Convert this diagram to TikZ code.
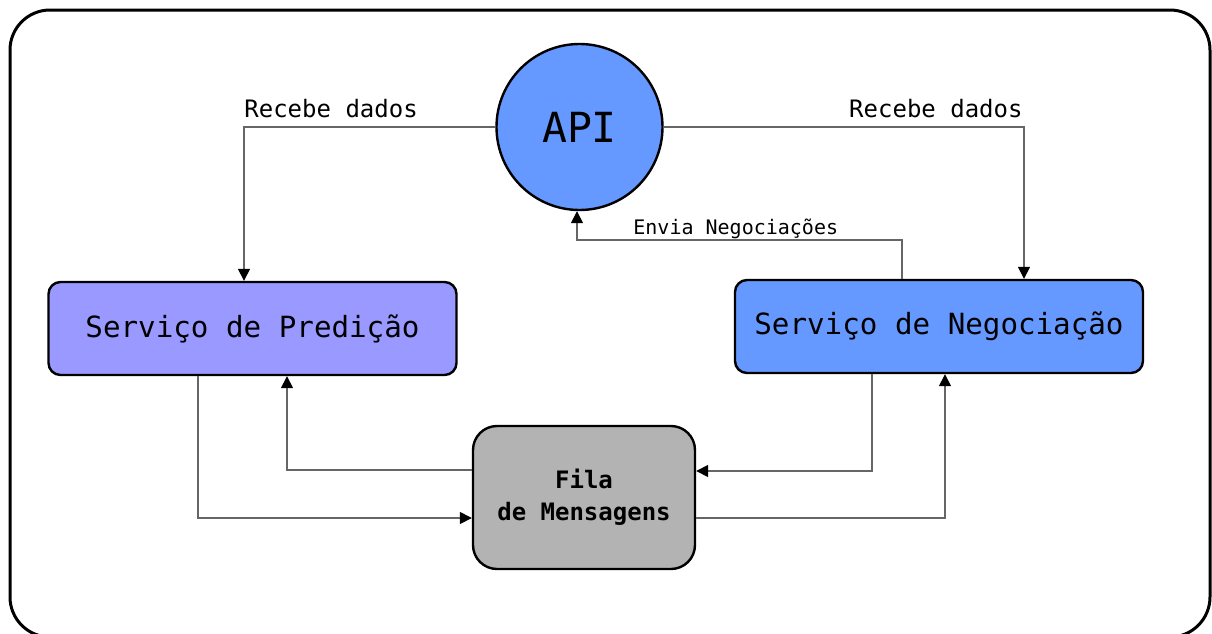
\documentclass[tikz,border=0pt]{standalone}
\usepackage{fontspec}
\setmonofont{DejaVu Sans Mono}
\usetikzlibrary{shapes,arrows.meta,positioning,calc}
\definecolor{predcol}{HTML}{9999FF}
\definecolor{negcol}{HTML}{6699FF}
\definecolor{filacol}{HTML}{B3B3B3}

\begin{document}
\begin{tikzpicture}[x=0.5pt,y=-0.5pt,
  servico/.style={draw,line width=1.2pt,rounded corners=6pt,minimum width=204pt,minimum height=46.5pt,font=\ttfamily\fontsize{14.6}{17}\selectfont},
  conn/.style={draw=black!60,line width=0.75pt},
  seta/.style={conn,-{Triangle[black,length=6pt,width=6pt]}},
  rotulo/.style={font=\ttfamily\fontsize{12}{14}\selectfont,inner sep=0pt}]
  \useasboundingbox (0,0) rectangle (1212,633);
  \draw[line width=1.5pt,rounded corners=20pt] (10,10) rectangle (1210,637);

  \node[circle,draw,line width=1.2pt,fill=negcol,minimum size=83pt,font=\ttfamily\fontsize{20.75}{24}\selectfont] (api) at (579.5,127) {API};
  \node[servico,fill=predcol] (pred) at (252.5,328.5) {Serviço de Predição};
  \node[servico,fill=negcol] (neg) at (939,326.5) {Serviço de Negociação};
  \node[servico,fill=filacol,minimum width=111pt,minimum height=71.5pt,rounded corners=12pt,align=center,font=\ttfamily\bfseries\fontsize{12}{16}\selectfont] (fila) at (584,497.5) {Fila\\de Mensagens};

  \draw[seta] (api.west) -| ($(pred.north)+(-8.5,0)$);
  \node[rotulo,anchor=base west] (rd1) at (244,117) {Recebe dados};
  \draw[seta] (api.east) -| ($(neg.north)+(85,0)$);
  \node[rotulo,anchor=base east] (rd2) at (1023,117) {Recebe dados};

  \coordinate (envia) at (577,240);
  \draw[seta] ($(neg.north)+(-37,0)$) |- (envia) -- (envia |- api.south);
  \node[rotulo,anchor=base west,font=\ttfamily\fontsize{10}{12}\selectfont] (en) at (633,234) {Envia Negociações};

  \draw[seta] ($(fila.west)+(0,-27.5)$) -| ($(pred.south)+(34.5,0)$);
  \draw[seta] ($(pred.south)+(-54.5,0)$) |- ($(fila.west)+(0,20.5)$);
  \draw[seta] ($(neg.south)+(-67,0)$) |- ($(fila.east)+(0,-26.5)$);
  \draw[seta] ($(fila.east)+(0,20.5)$) -| ($(neg.south)+(6,0)$);
\end{tikzpicture}
\end{document}
